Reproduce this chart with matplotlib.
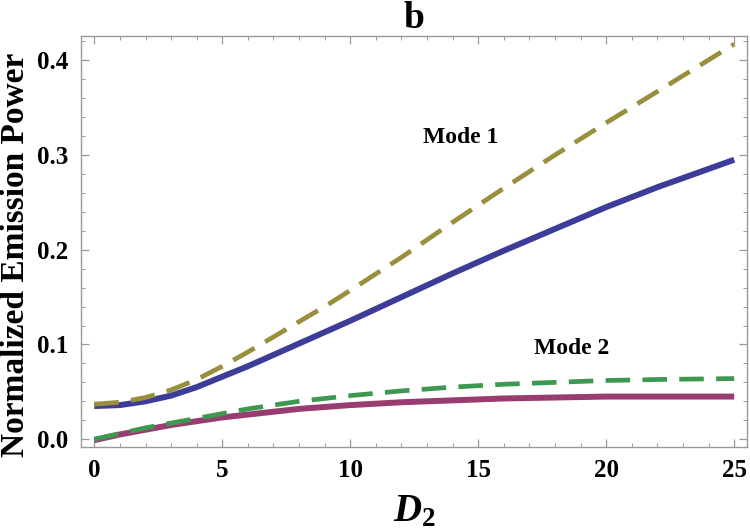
import matplotlib
matplotlib.use("Agg")
import matplotlib.pyplot as plt
from matplotlib.ticker import MultipleLocator

plt.rcParams['font.family'] = ['Liberation Serif', 'DejaVu Serif']
plt.rcParams['mathtext.fontset'] = 'custom'
plt.rcParams['mathtext.it'] = 'Liberation Serif:italic:bold'
plt.rcParams['mathtext.rm'] = 'Liberation Serif:bold'

# values
d2 = [0, 1, 2, 3, 4, 5, 6, 7, 8, 9, 10, 12, 14, 16, 18, 20, 22, 25]
mode1_dashed = [0.037, 0.039, 0.044, 0.052, 0.063, 0.077, 0.092, 0.108, 0.124,
                0.140, 0.157, 0.192, 0.229, 0.265, 0.300, 0.334, 0.367, 0.417]
mode1_solid = [0.035, 0.036, 0.040, 0.046, 0.055, 0.066, 0.077, 0.089, 0.101,
               0.113, 0.125, 0.150, 0.175, 0.199, 0.222, 0.245, 0.266, 0.295]
mode2_dashed = [0.000, 0.006, 0.012, 0.017, 0.022, 0.027, 0.032, 0.036, 0.040,
                0.043, 0.046, 0.051, 0.055, 0.058, 0.060, 0.062, 0.063, 0.064]
mode2_solid = [-0.001, 0.005, 0.010, 0.015, 0.019, 0.023, 0.026, 0.029, 0.032,
               0.034, 0.036, 0.039, 0.041, 0.043, 0.044, 0.045, 0.045, 0.045]

# Mathematica default plot colours
blue = '#3D3D99'
magenta = '#993D71'
olive = '#998F3D'
green = '#3D9951'

fig = plt.figure(figsize=(7.5, 5.32), dpi=100)
ax = fig.add_axes([0.108, 0.16, 0.888, 0.772])

ax.plot(d2, mode1_solid, color=blue, lw=4.3, solid_capstyle='butt')
ax.plot(d2, mode2_solid, color=magenta, lw=4.3, solid_capstyle='butt')
ax.plot(d2, mode1_dashed, color=olive, lw=3.4, dashes=(5.2, 2.6))
ax.plot(d2, mode2_dashed, color=green, lw=3.4, dashes=(5.2, 2.6))

ax.text(14.3, 0.318, 'Mode 1', fontsize=17, fontweight='bold', ha='center', va='center')
ax.text(18.65, 0.096, 'Mode 2', fontsize=17, fontweight='bold', ha='center', va='center')

ax.set_xlim(-0.52, 25.5)
ax.set_ylim(-0.0081, 0.4254)
ax.xaxis.set_major_locator(MultipleLocator(5))
ax.xaxis.set_minor_locator(MultipleLocator(1))
ax.yaxis.set_major_locator(MultipleLocator(0.1))
ax.yaxis.set_minor_locator(MultipleLocator(0.02))
ax.yaxis.set_major_formatter(plt.FuncFormatter(lambda v, p: '%.1f' % v))

for s in ax.spines.values():
    s.set_color('#999999')
    s.set_linewidth(1.0)
ax.tick_params(which='both', direction='in', top=True, right=True, color='#999999')
ax.tick_params(which='major', length=6, width=0.9, labelsize=18, pad=9)
ax.tick_params(which='minor', length=3, width=0.7)
for lab in ax.get_xticklabels() + ax.get_yticklabels():
    lab.set_fontweight('bold')

# y label placed by hand, as in the reference it sits a bit below the axes centre
fig.text(16 / 750, 1 - 255 / 532, 'Normalized Emission Power', fontsize=24,
         fontweight='bold', rotation=90, ha='center', va='center')
ax.set_xlabel(r'$D_2$', fontsize=28, labelpad=8)
ax.set_title('b', fontsize=27, fontweight='bold', pad=3)

fig.savefig('out.png', dpi=100)
